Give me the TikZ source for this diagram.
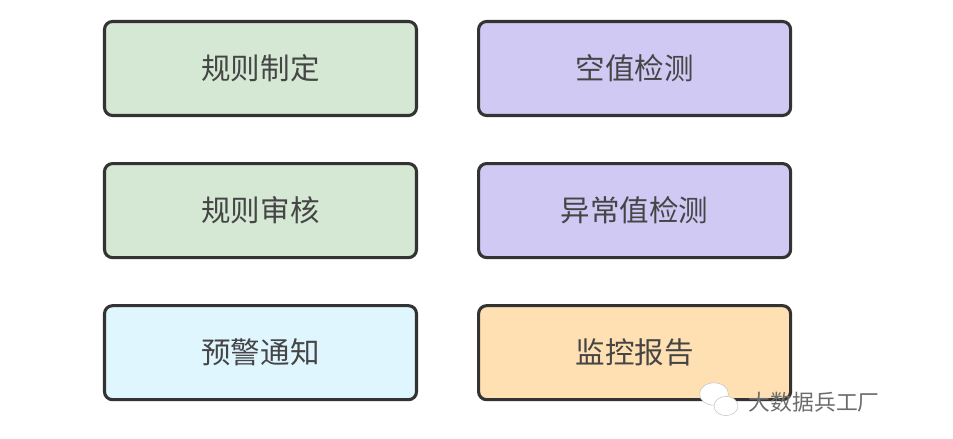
\documentclass[tikz,border=0pt]{standalone}
\usepackage{fontspec}
\usepackage{tikz}
\usepackage{xcolor}
\usetikzlibrary{positioning}
\setmainfont{Noto Sans CJK SC}
\definecolor{ruleGreen}{HTML}{D5E8D4}
\definecolor{checkPurple}{HTML}{D0C9F3}
\definecolor{alertCyan}{HTML}{DFF6FF}
\definecolor{reportOrange}{HTML}{FFE0B3}
\definecolor{boxBorder}{HTML}{333333}
\definecolor{boxText}{HTML}{454545}

\begin{document}
\begin{tikzpicture}[
      node distance=1.125cm and 1.475cm,
      task/.style={draw=boxBorder, line width=2.2pt, rounded corners=0.2cm, minimum width=7.8cm, minimum height=2.35cm, align=center, text=boxText, font=\fontsize{21}{25}\selectfont},
      watermark/.style={font=\fontsize{15.5}{18}\selectfont, text=gray!85!black},
    ]
    \useasboundingbox (0,0) rectangle (23.825,-10.975);
    \node[task, fill=ruleGreen] (define) at (6.5125,-1.7125) {规则制定};
    \node[task, fill=checkPurple, right=of define] (nullcheck) {空值检测};
    \node[task, fill=ruleGreen, below=of define] (review) {规则审核};
    \node[task, fill=checkPurple, right=of review] (outlier) {异常值检测};
    \node[task, fill=alertCyan, below=of review] (alert) {预警通知};
    \node[task, fill=reportOrange, right=of alert] (report) {监控报告};
    % watermark
    \filldraw[fill=white, draw=gray!45] (17.85,-9.85) ellipse (0.36cm and 0.28cm);
    \filldraw[fill=white, draw=gray!45] (18.15,-10.15) ellipse (0.3cm and 0.24cm);
    \node[watermark, anchor=west] (wm) at (18.6,-10.05) {大数据兵工厂};
  \end{tikzpicture}
\end{document}
